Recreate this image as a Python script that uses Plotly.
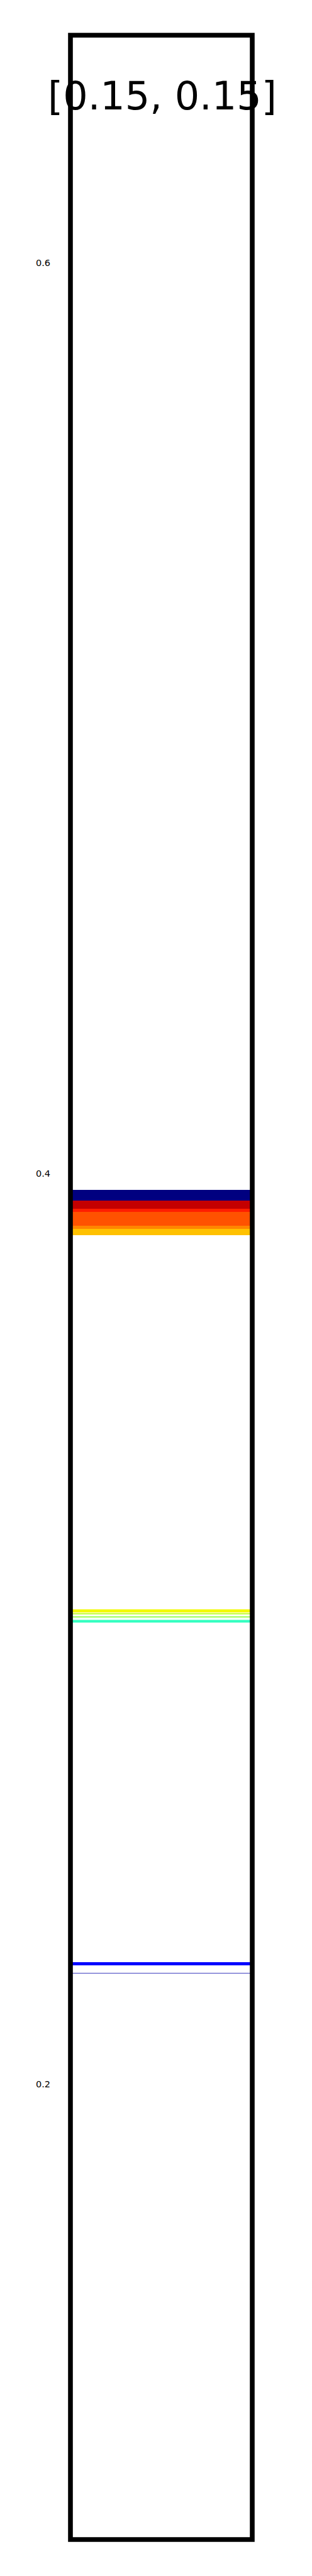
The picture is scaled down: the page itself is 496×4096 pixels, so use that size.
import plotly.graph_objects as go

# Band data (lower edge, upper edge in y-units) and colours
band_low = [0.39400, 0.39226, 0.39156, 0.38850, 0.38780, 0.38649,
            0.30359, 0.30322, 0.30252, 0.30205, 0.30139,
            0.22608, 0.22432]
band_high = [0.39645, 0.39400, 0.39226, 0.39156, 0.38850, 0.38780,
             0.30429, 0.30348, 0.30272, 0.30222, 0.30194,
             0.22684, 0.22443]
band_colors = ["#000080", "#c40000", "#ff1e00", "#ff5200", "#ff8600", "#ffc100",
               "#f3fa00", "#c4ff33", "#9dff5a", "#dcfff0", "#36ffc1",
               "#0000ff", "#3f3fbf"]

tick_vals = [0.2, 0.4, 0.6]
tick_text = ["0.2", "0.4", "0.6"]
title_text = "[0.15, 0.15]"
y_range = [0.1, 0.65]

W, H = 496, 4096
ml, mr, mt, mb = 112.2, 496 - 400.9, 56.4, 4096 - 4038.5

fig = go.Figure()
fig.add_trace(go.Bar(
    x=[0] * len(band_low),
    base=band_low,
    y=[h - l for h, l in zip(band_high, band_low)],
    width=1,
    marker=dict(color=band_colors, line=dict(width=0)),
    showlegend=False,
    hoverinfo="skip",
))

fig.update_layout(
    width=W, height=H,
    margin=dict(l=ml, r=mr, t=mt, b=mb, pad=0),
    paper_bgcolor="white", plot_bgcolor="white",
    barmode="overlay",
    bargap=0,
    xaxis=dict(range=[-0.5, 0.5], showgrid=False, zeroline=False,
               showticklabels=False, ticks="", showline=False, fixedrange=True),
    yaxis=dict(range=y_range, showgrid=False, zeroline=False,
               tickvals=tick_vals, ticktext=tick_text,
               ticks="outside", ticklen=28, tickcolor="rgba(0,0,0,0)",
               tickfont=dict(family="DejaVu Sans", size=14.5, color="black"),
               showline=False),
    font=dict(family="DejaVu Sans", color="black"),
)

# Frame around the plot area
fig.add_shape(type="rect", xref="x domain", yref="y domain",
              x0=0, x1=1, y0=0, y1=1,
              line=dict(color="black", width=7.6), layer="above")

# Title text overlapping the top of the frame
fig.add_annotation(text=title_text, xref="paper", yref="paper",
                   x=(258.4 - ml) / (W - ml - mr), xanchor="center",
                   y=1 - (152.6 - mt) / (H - mt - mb), yanchor="middle",
                   showarrow=False,
                   font=dict(family="DejaVu Sans", size=62, color="black"))

fig.write_html("out.html",
               config={"displayModeBar": False},
               post_script="document.body.style.margin='0';"
                           "document.body.style.padding='0';"
                           "document.body.style.overflow='hidden';")
